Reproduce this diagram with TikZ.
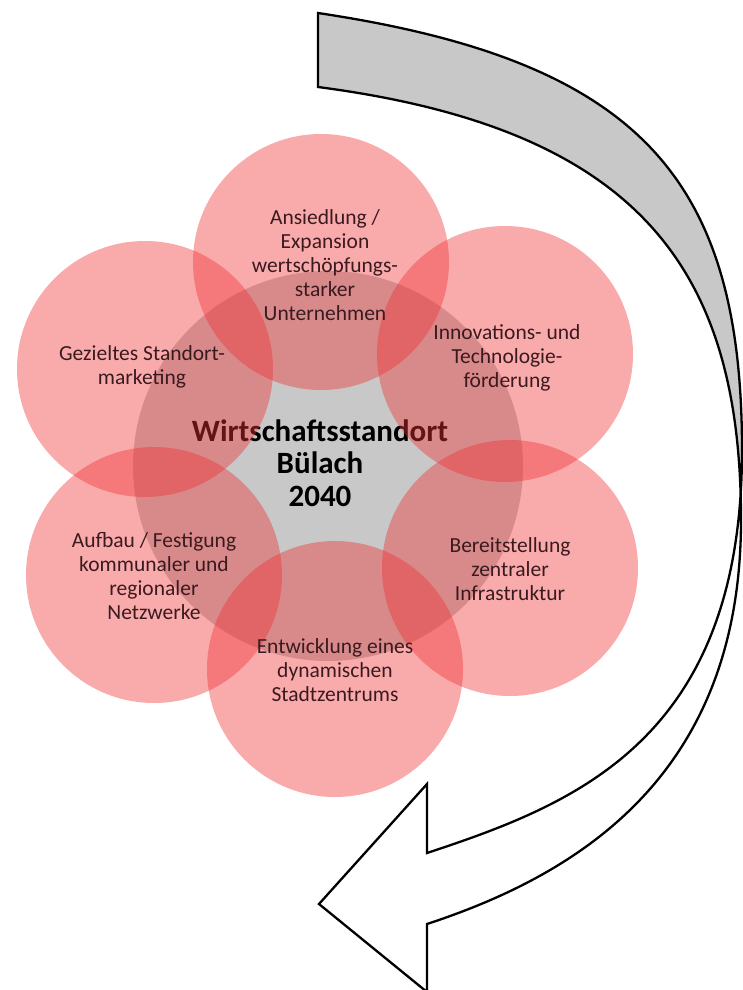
\documentclass[tikz,border=0pt]{standalone}
\usepackage{fontspec}
\setmainfont{Carlito}
\definecolor{petalred}{RGB}{240,50,52}
\definecolor{hubgray}{RGB}{200,200,200}
\definecolor{backgray}{RGB}{200,200,200}
\definecolor{txtc}{RGB}{58,26,30}
\begin{document}
\begin{tikzpicture}[x=1pt,y=-1pt,
  petal/.style={circle, minimum size=256pt, inner sep=0pt, fill=petalred, fill opacity=0.41, draw=none},
  hub/.style={circle, minimum size=390pt, inner sep=0pt, fill=hubgray, draw=none},
  petaltext/.style={align=center, inner sep=0pt, text=txtc, font=\fontsize{21.5}{24}\selectfont},
  hubtext/.style={align=center, inner sep=0pt, text=black, font=\bfseries\fontsize{31}{32.5}\selectfont},
  arrowline/.style={draw=black, line width=2.3pt, line join=miter}]
\useasboundingbox (0,0) rectangle (743,990);

% curved block arrow
\fill[backgray] (318,13) .. controls (638,61) and (742,177) .. (742,450)
  -- (741,520) .. controls (741,269) and (639,129) .. (318,87) -- cycle;
\fill[white] (742,450) .. controls (742,740) and (575,804) .. (427,853)
  -- (427,784) -- (319,904) -- (427,992) -- (427,924)
  .. controls (576,875) and (741,777) .. (741,520) -- cycle;
\draw[arrowline] (318,13) .. controls (638,61) and (742,177) .. (742,450)
  .. controls (742,740) and (575,804) .. (427,853)
  -- (427,784) -- (319,904) -- (427,992) -- (427,924)
  .. controls (576,875) and (741,777) .. (741,520)
  .. controls (741,269) and (639,129) .. (318,87) -- cycle;

% hub
\node[hub] (hub) at (328,466) {};
\node[hubtext] (hubtxt) at (320,463) {Wirtschaftsstandort\\Bülach\\2040};

% petals
\node[petal] (p1) at (321,262) {};
\node[petal] (p2) at (505,354) {};
\node[petal] (p3) at (510,568) {};
\node[petal] (p4) at (335,669) {};
\node[petal] (p5) at (154,575) {};
\node[petal] (p6) at (145,369) {};

% petal texts
\node[petaltext] (t1) at (325,265) {Ansiedlung /\\Expansion\\wertschöpfungs-\\starker\\Unternehmen};
\node[petaltext] (t2) at (507,358) {Innovations- und\\Technologie-\\förderung};
\node[petaltext] (t3) at (510,569) {Bereitstellung\\zentraler\\Infrastruktur};
\node[petaltext] (t4) at (335,670) {Entwicklung eines\\dynamischen\\Stadtzentrums};
\node[petaltext] (t5) at (154,576) {Aufbau / Festigung\\kommunaler und\\regionaler\\Netzwerke};
\node[petaltext] (t6) at (142,367) {Gezieltes Standort-\\marketing};
\end{tikzpicture}
\end{document}
